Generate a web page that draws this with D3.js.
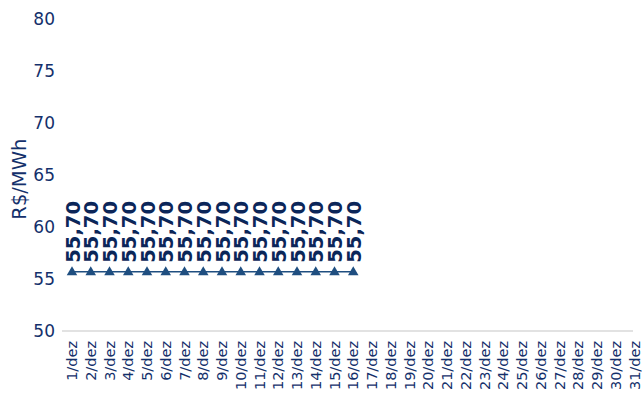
<!DOCTYPE html>
<html><head><meta charset="utf-8">
<script src="https://cdn.jsdelivr.net/npm/d3@7"></script>
<style>body{margin:0;background:#fff}svg{display:block}text{font-family:"DejaVu Sans",sans-serif}</style>
</head><body>
<script>
const categories = Array.from({length:31},(_,i)=>`${i+1}/dez`);
const values = [55.70,55.70,55.70,55.70,55.70,55.70,55.70,55.70,55.70,55.70,55.70,55.70,55.70,55.70,55.70,55.70,
  null,null,null,null,null,null,null,null,null,null,null,null,null,null,null];
const yTicks = [50,55,60,65,70,75,80];
const yLabel = "R$/MWh";

const W=642,H=394;
const svg=d3.select("body").append("svg").attr("width",W).attr("height",H);
const x=d3.scalePoint().domain(categories).range([72,634.5]);
const y=d3.scaleLinear().domain([50,80]).range([331,19]);
const navy="#14306b";

svg.append("line").attr("x1",62).attr("x2",633).attr("y1",y(50)).attr("y2",y(50)).attr("stroke","#d9d9d9").attr("stroke-width",1.3);

svg.selectAll(".yt").data(yTicks).enter().append("text")
 .attr("x",55).attr("y",d=>y(d)).attr("dy","0.36em").attr("text-anchor","end")
 .attr("font-size",17).attr("fill",navy).text(d=>d);

svg.append("text").attr("transform",`translate(26,${y(64.6)}) rotate(-90)`).attr("text-anchor","middle")
 .attr("font-size",19.5).attr("fill",navy).text(yLabel);

svg.selectAll(".xt").data(categories).enter().append("text")
 .attr("transform",d=>`translate(${x(d)+5},341) rotate(-90)`).attr("text-anchor","end")
 .attr("font-size",14.5).attr("fill",navy).text(d=>d);

const pts=categories.map((c,i)=>({c,v:values[i]})).filter(d=>d.v!=null);
svg.append("path").datum(pts).attr("fill","none").attr("stroke","#1f4e80").attr("stroke-width",1.5)
 .attr("d",d3.line().x(d=>x(d.c)).y(d=>y(d.v)));
svg.selectAll(".m").data(pts).enter().append("path")
 .attr("d",d3.symbol(d3.symbolTriangle,48)).attr("fill","#1f4e80")
 .attr("transform",d=>`translate(${x(d.c)},${y(d.v)+0.5})`);
svg.selectAll(".dl").data(pts).enter().append("text")
 .attr("transform",d=>`translate(${x(d.c)+7.5},${y(d.v)-9}) rotate(-90)`)
 .attr("font-size",19.5).attr("font-weight","bold").attr("fill","#0b2659")
 .text(d=>d.v.toFixed(2).replace(".",","));
</script>
</body></html>
